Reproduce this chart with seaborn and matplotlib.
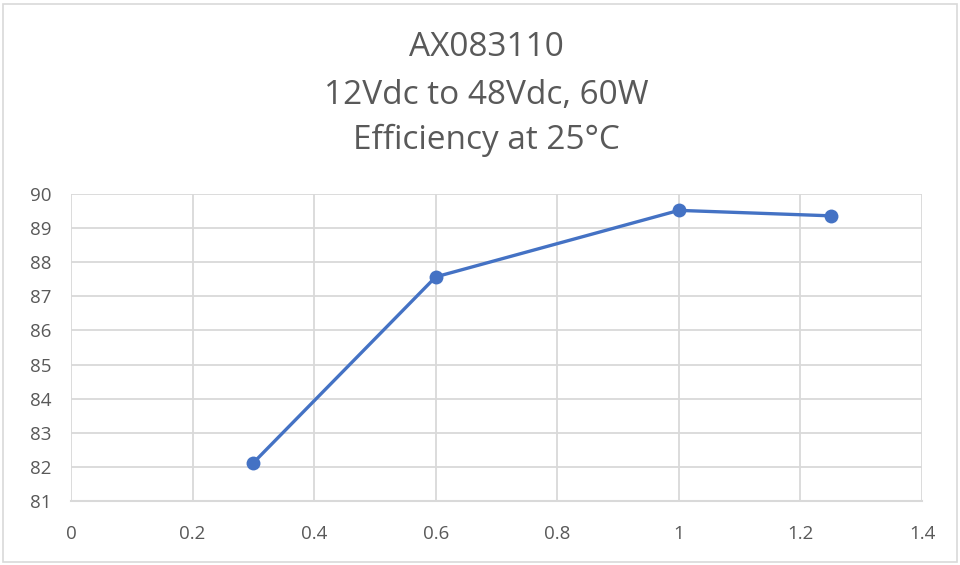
import matplotlib
matplotlib.use("Agg")
import matplotlib.pyplot as plt
import seaborn as sns
import pandas as pd
from matplotlib.patches import Rectangle

load = [0.3, 0.6, 1.0, 1.25]
efficiency = [82.12, 87.57, 89.52, 89.36]
title_lines = ["AX083110", "12Vdc to 48Vdc, 60W", "Efficiency at 25°C"]
x_ticks = [0, 0.2, 0.4, 0.6, 0.8, 1.0, 1.2, 1.4]
x_labels = ["0", "0.2", "0.4", "0.6", "0.8", "1", "1.2", "1.4"]
y_ticks = list(range(81, 91))

sns.set_theme(style="white")
plt.rcParams['font.family'] = ['Open Sans', 'DejaVu Sans']

df = pd.DataFrame({"load": load, "eff": efficiency})

fig = plt.figure(figsize=(9.6, 5.65), dpi=100)
ax = fig.add_axes([71/960, 1-501/565, (922-71)/960, (501-194)/565])

sns.lineplot(data=df, x="load", y="eff", ax=ax, color="#4472C4", linewidth=2.4,
             marker="o", markersize=10, markeredgewidth=0, markerfacecolor="#4472C4")

ax.set_xlim(0, 1.4)
ax.set_ylim(81, 90)
ax.set_xticks(x_ticks)
ax.set_xticklabels(x_labels)
ax.set_yticks(y_ticks)
ax.grid(True, color="#D9D9D9", linewidth=1.3)
ax.set_axisbelow(True)
for s in ax.spines.values():
    s.set_visible(False)
ax.spines['bottom'].set_visible(True)
ax.spines['bottom'].set_color("#D9D9D9")
ax.spines['bottom'].set_linewidth(1.5)
ax.tick_params(axis='both', length=0, labelsize=13.5, colors="#595959")
ax.tick_params(axis='x', pad=17)
ax.tick_params(axis='y', pad=14)
ax.set_xlabel("")
ax.set_ylabel("")

ys = [1-47/565, 1-95/565, 1-140/565]
for t, y in zip(title_lines, ys):
    fig.text(0.507, y, t, ha="center", va="center", fontsize=24, color="#595959")

fig.patches.append(Rectangle((3/960, 3/565), 954/960, 558/565, transform=fig.transFigure,
                             fill=False, edgecolor="#D9D9D9", linewidth=1.2))

fig.savefig("out.png", dpi=100)
